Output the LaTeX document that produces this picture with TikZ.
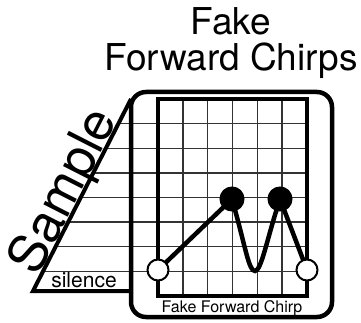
\documentclass[tikz,border=0pt]{standalone}
\usepackage{fontspec}
\setmainfont{TeX Gyre Heros}
\usetikzlibrary{arrows.meta, positioning, calc}

\begin{document}
\begin{tikzpicture}[x=1pt, y=-1pt,
    gridline/.style={black!80, line width=1.4pt},
    frame/.style={line width=4.5pt},
    chirp/.style={line width=4.5pt},
    onset/.style={circle, draw, line width=2pt, fill=white, minimum size=21pt, inner sep=0pt, outer sep=0pt},
    peak/.style={circle, draw, line width=2pt, fill=black, minimum size=23pt, inner sep=0pt, outer sep=0pt}]
    \useasboundingbox (0,0) rectangle (361,323);

    % Title
    \node[anchor=base, font=\fontsize{37}{40}\selectfont] (fake) at (231,35) {Fake};
    \node[anchor=base, font=\fontsize{37}{40}\selectfont] (forward) at (231,71) {Forward Chirps};

    % Grid lines, running left into the wedge
    \foreach \k in {1,...,7} {
        \pgfmathsetmacro{\yy}{99+24.625*\k}
        \pgfmathsetmacro{\xx}{33+(291-\yy)*97/191}
        \draw[gridline] (\xx,\yy) -- (158,\yy);
        \draw[gridline] (158,\yy) -- (307,\yy);
    }
    \foreach \k in {1,...,5}
        \draw[gridline] ({158+24.83*\k},99) -- ++(0,197);

    % Sample wedge
    \coordinate (apex) at (131,99);
    \coordinate (foot) at (33,291);
    \coordinate (heel) at (131,291);
    \draw[line width=4pt, line join=miter] (apex) -- (foot) -- (heel);
    \node[anchor=base, rotate=63, inner sep=0pt, font=\fontsize{52}{54}\selectfont] (sample) at (78,198.5) {Sample};
    \node[anchor=base, inner sep=0pt, font=\fontsize{21}{24}\selectfont] (silence) at (84,287) {silence};

    % Boxes
    \draw[frame, rounded corners=15pt] (131,92) rectangle (332,317);
    \draw[frame] (158,99) rectangle (307,296);
    \node[anchor=base, inner sep=0pt, font=\fontsize{16}{18}\selectfont] (caption) at (232,312) {Fake Forward Chirp};

    % Chirp
    \node[onset] (start) at (158,270) {};
    \node[peak] (rise) at (232,199) {};
    \node[peak] (fall) at (280,199) {};
    \node[onset] (stop) at (307,270) {};
    \coordinate (dip) at (255,271);
    \draw[chirp] (start) -- (rise);
    \draw[chirp] (rise) .. controls (246,250) and (249,271) .. (dip)
        .. controls (261,271) and (267,240) .. (fall);
    \draw[chirp] (fall) -- (stop);
\end{tikzpicture}
\end{document}
